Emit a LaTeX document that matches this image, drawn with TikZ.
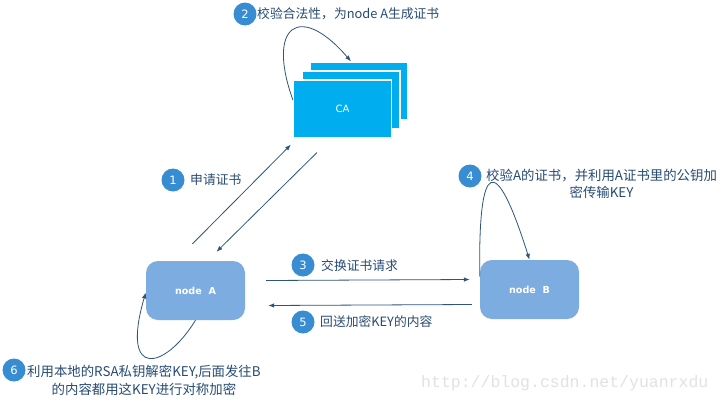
\documentclass[tikz,border=0pt]{standalone}
\usepackage{fontspec}
\setmainfont{Noto Sans CJK SC}
\newfontfamily\latb{DejaVu Sans}
\newfontfamily\monof{Liberation Mono}
\usetikzlibrary{arrows.meta,calc}
\definecolor{cablue}{RGB}{0,174,239}
\definecolor{peerblue}{RGB}{125,173,224}
\definecolor{numblue}{RGB}{55,140,210}
\definecolor{txt}{RGB}{40,75,115}
\definecolor{arrc}{RGB}{45,85,125}
\definecolor{wm}{RGB}{226,226,226}
\begin{document}
\begin{tikzpicture}[x=1pt,y=-1pt,
  camp/.style={fill=cablue, draw=white, line width=1.2pt, minimum width=98pt, minimum height=58pt, inner sep=0pt},
  peer/.style={fill=peerblue, rounded corners=12pt, minimum width=99pt, minimum height=59pt, text=white, font=\latb\bfseries\fontsize{9.6}{11}\selectfont},
  num/.style={circle, fill=numblue, text=white, minimum size=23pt, inner sep=0pt, font=\latb\fontsize{11.5}{13}\selectfont},
  lbl/.style={text=txt, font=\fontsize{12.8}{17}\selectfont, inner sep=0pt},
  lblw/.style={text=txt, font=\fontsize{13.4}{17}\selectfont, inner sep=0pt},
  arr/.style={draw=arrc, line width=0.8pt, -{Latex[length=6pt,width=4.5pt]}}
]
\useasboundingbox[fill=white] (0,0) rectangle (722,402);
% CA stack
\node[camp] (cab) at (359,91) {};
\node[camp] (cam) at (351,100) {};
\node[camp, text=white, font=\latb\fontsize{10}{12}\selectfont] (caf) at (342.5,109) {CA};
% peers
\node[peer] (na) at (195.5,290.5) {node\ \ A};
\node[peer] (nb) at (529.5,289.5) {node\ \ B};
% step labels
\node[num] (n2) at (245,14) {2};
\node[lbl, anchor=west] (t2) at (257,14) {校验合法性，为node A生成证书};
\node[num] (n1) at (173,180) {1};
\node[lbl, anchor=west] (t1) at (190,180) {申请证书};
\node[num] (n3) at (303,265) {3};
\node[lbl, anchor=west] (t3) at (321,266) {交换证书请求};
\node[num] (n5) at (303,322) {5};
\node[lbl, anchor=west] (t5) at (320,322) {回送加密KEY的内容};
\node[num] (n4) at (470,176) {4};
\node[lblw, anchor=west, align=center] (t4) at (486,184) {校验A的证书，并利用A证书里的公钥加\\密传输KEY};
\node[num] (n6) at (14,370) {6};
\node[lblw, anchor=west, align=center] (t6) at (27,380) {利用本地的RSA私钥解密KEY,后面发往B\\[1pt]的内容都用这KEY进行对称加密};
% watermark
\node[text=wm, font=\monof\fontsize{16.5}{18}\selectfont, anchor=west, inner sep=0pt] (wmk) at (421,383) {http://blog.csdn.net/yuanrxdu};
% connectors
\draw[arr] ([yshift=9pt]caf.west) .. controls (266,25) and (300,2) .. ([xshift=-8pt]cab.north);
\draw[arr] ([xshift=-3pt,yshift=17pt]na.north) -- ([xshift=-2pt,yshift=-6pt]caf.south west);
\draw[arr] ([xshift=24pt,yshift=-14pt]caf.south west) -- ([xshift=21pt,yshift=9pt]na.north);
\draw[arr] ([xshift=21pt,yshift=10pt]na.east) -- ([xshift=-10pt,yshift=10pt]nb.west);
\draw[arr] ([xshift=-8pt,yshift=-15pt]nb.west) -- ([xshift=23pt,yshift=-15pt]na.east);
\draw[arr] ([yshift=13pt]nb.west) .. controls (478,160) and (495,150) .. (nb.north);
\draw[arr] (na.south) .. controls (165,370) and (120,380) .. ([yshift=-2pt]na.west);
\end{tikzpicture}
\end{document}
